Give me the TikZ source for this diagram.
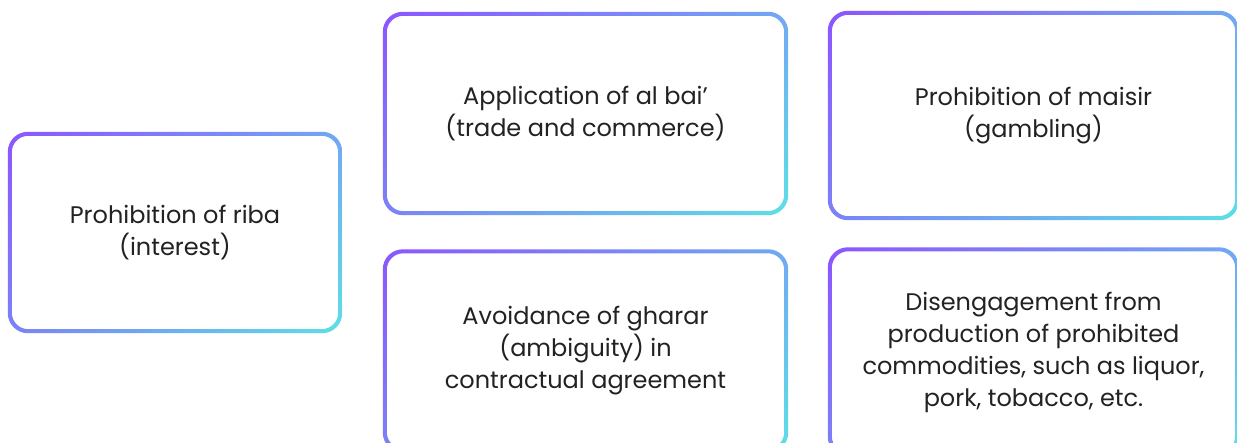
\documentclass[tikz,border=0pt]{standalone}
\usepackage{fontspec}
\usetikzlibrary{shadings}
\setmainfont{Poppins}
\definecolor{gA}{HTML}{8C55FF}
\definecolor{gB}{HTML}{72A8F2}
\definecolor{gC}{HTML}{7C82F6}
\definecolor{gD}{HTML}{5CE0E6}
\definecolor{txt}{HTML}{222222}
\tikzset{
  card/.style={draw=none, align=center, text=txt,
    font=\fontsize{24}{32}\selectfont, inner sep=0pt},
  ring/.style={even odd rule, upper left=gA, upper right=gB, lower left=gC, lower right=gD}
}
% #1 node, #2 vertical offset of the card relative to the node
\newcommand\cardring[2]{%
  \begin{scope}[yshift=#2]
  \shade[ring] ([shift={(-2,2)}]#1.north west) [rounded corners=20pt] rectangle ([shift={(2,-2)}]#1.south east)
    [rounded corners=16.5pt] ([shift={(2,-2)}]#1.north west) rectangle ([shift={(-2,2)}]#1.south east);
  \end{scope}}
\begin{document}
\begin{tikzpicture}[x=1pt,y=1pt]
\useasboundingbox[fill=white] (0,0) rectangle (1237,443);
\node[card, minimum width=330, minimum height=197] (riba) at (175,210.5)
  {Prohibition of riba\\(interest)};
\node[card, minimum width=401, minimum height=199] (bai) at (585.5,329.5)
  {Application of al bai’\\(trade and commerce)};
\node[card, minimum width=407, minimum height=205] (maisir) at (1033.5,327.5)
  {Prohibition of maisir\\(gambling)};
\node[card, minimum width=401, minimum height=199] (gharar) at (585.5,92)
  {Avoidance of gharar\\(ambiguity) in\\contractual agreement};
\node[card, minimum width=407, minimum height=205] (dis) at (1033.5,91)
  {Disengagement from\\production of prohibited\\commodities, such as liquor,\\pork, tobacco, etc.};
\cardring{riba}{0}
\cardring{bai}{0}
\cardring{maisir}{2}
\cardring{gharar}{3}
\cardring{dis}{0}
\end{tikzpicture}
\end{document}
